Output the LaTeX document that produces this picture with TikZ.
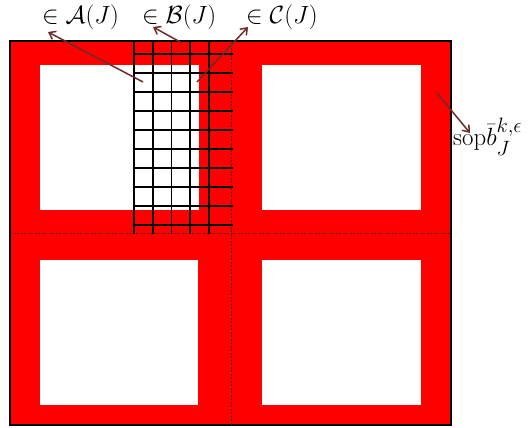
\documentclass[tikz,border=0pt]{standalone}
\usepackage{amsmath,amssymb}
\usetikzlibrary{arrows.meta}
\definecolor{arrowred}{RGB}{112,42,42}
\tikzset{
  gridline/.style={line width=1.7pt, black},
  cutline/.style={dash pattern=on 2pt off 1.5pt, line width=0.7pt, arrowred!80!black},
  pointer/.style={-{Straight Barb[length=6pt,width=9pt]}, line width=1.5pt, arrowred},
  biglabel/.style={inner sep=0pt, font=\fontsize{26}{30}\selectfont},
}
\begin{document}
\begin{tikzpicture}[x=1pt, y=-1pt]
  \useasboundingbox (0,0) rectangle (530,428);
  % frame
  \fill[red] (10,41) rectangle (451,425);
  \foreach \xa/\ya/\xb/\yb in {40/65/199/210, 262/65/421/210,
                                40/260/198/405, 262/260/421/405}
    \fill[white] (\xa,\ya) rectangle (\xb,\yb);
  \draw[line width=1.4pt] (10,41) rectangle (451,425);
  % cuts
  \draw[cutline] (10,233) -- (451,233);
  \draw[cutline] (231,41) -- (231,425);
  % grid
  \foreach \i in {0,...,4}
    \draw[gridline] (134+18.75*\i,41) -- (134+18.75*\i,234);
  \foreach \j in {0,...,9}
    \draw[gridline] (134,54+19*\j) -- (233,54+19*\j);
  % labels
  \node[biglabel, anchor=base west] (labA) at (42,24) {$\in\mathcal{A}(J)$};
  \node[biglabel, anchor=base west] (labB) at (142,24) {$\in\mathcal{B}(J)$};
  \node[biglabel, anchor=base west] (labC) at (246,24) {$\in\mathcal{C}(J)$};
  \node[biglabel, font=\fontsize{28}{32}\selectfont, anchor=base west] (labD)
    at (453,145) {$\mathrm{sop}\bar{b}_J^{k,\epsilon}$};
  % pointers
  \coordinate (pA) at (143,82);
  \coordinate (pB) at (182,43);
  \coordinate (pC) at (197,82);
  \coordinate (pD) at (437,93);
  \draw[pointer] (pA) -- ([shift={(6,8)}]labA.base west);
  \draw[pointer] (pB) -- ([shift={(11,3)}]labB.base west);
  \draw[pointer] (pC) -- ([shift={(2,3)}]labC.base west);
  \draw[pointer] (pD) -- ([shift={(17,-12)}]labD.base west);
\end{tikzpicture}
\end{document}
